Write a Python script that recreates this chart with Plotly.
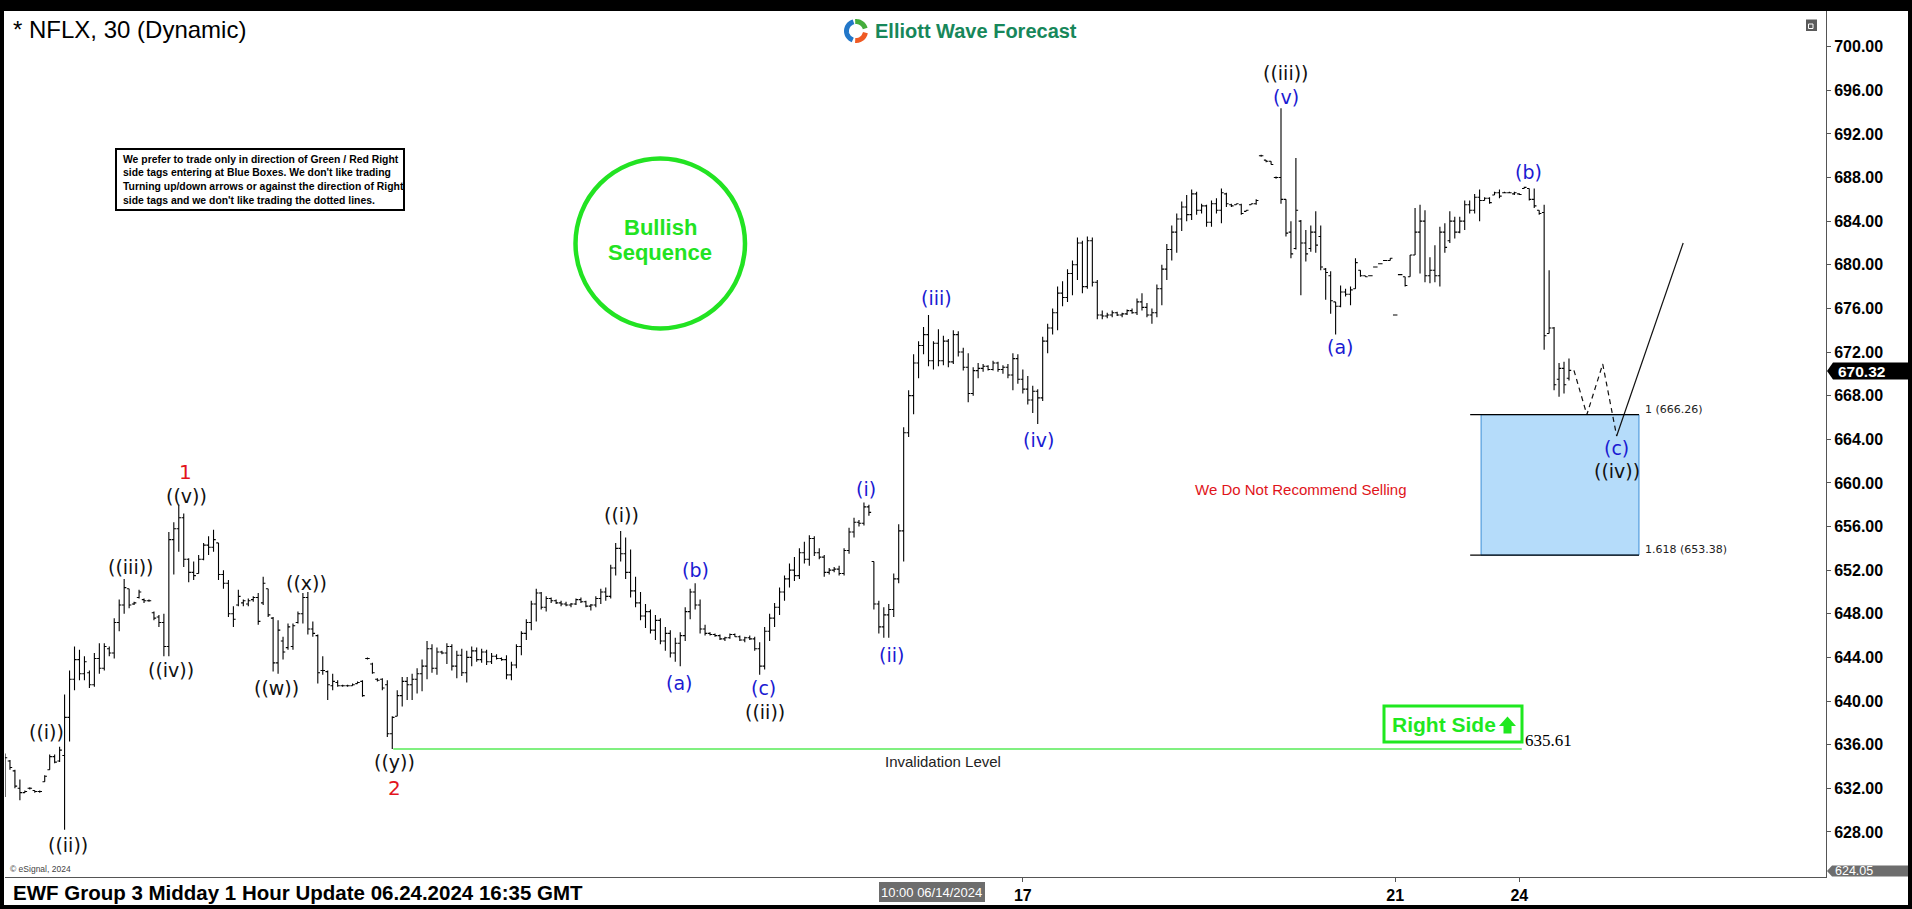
import plotly.graph_objects as go
import math

# ---------------- DATA ----------------
bar_open = [
 631.5, 634.5, 633.6, 632.0, 631.6, 632.0, 631.8, 631.7, 632.6, 633.7,
 634.9, 634.5, 635.0, 638.5, 642.0, 643.8, 642.5, 642.6, 641.5, 643.9,
 643.0, 644.8, 644.4, 647.2, 648.8, 650.3, 648.9, 649.5, 649.3, 649.2,
 648.1, 647.7, 647.2, 645.0, 654.8, 655.8, 656.8, 653.0, 651.8, 651.7,
 653.0, 654.3, 654.1, 654.5, 651.6, 650.8, 648.0, 648.8, 649.0, 648.9,
 649.3, 649.5, 649.0, 650.3, 647.6, 643.5, 645.5, 644.9, 645.0, 647.2,
 648.0, 649.5, 646.6, 646.0, 642.8, 642.7, 641.4, 641.7, 641.4, 641.4,
 641.4, 641.6, 641.8, 643.9, 643.4, 642.0, 642.0, 641.5, 637.0, 638.6,
 640.5, 641.8, 641.5, 642.0, 642.5, 643.2, 644.8, 643.0, 644.5, 644.4,
 645.0, 643.2, 644.2, 642.6, 644.0, 644.6, 643.8, 644.5, 643.6, 644.1,
 643.9, 643.8, 642.4, 643.3, 645.0, 646.2, 647.2, 648.9, 649.9, 648.6,
 649.4, 649.2, 649.0, 648.9, 648.8, 648.9, 649.3, 649.1, 648.7, 648.8,
 649.4, 650.0, 649.6, 652.2, 654.0, 653.5, 651.8, 650.1, 649.0, 647.8,
 648.2, 646.5, 647.4, 645.5, 646.2, 644.4, 645.3, 646.0, 648.2, 650.0,
 648.8, 646.6, 646.2, 646.1, 646.0, 645.7, 645.8, 646.1, 645.9, 645.6,
 645.8, 645.7, 644.8, 643.2, 646.4, 647.6, 648.6, 650.0, 651.2, 652.0,
 651.5, 653.6, 653.0, 654.9, 653.6, 653.2, 651.8, 652.0, 652.1, 651.7,
 653.8, 655.5, 656.4, 656.3, 657.8, 652.8, 648.9, 646.8, 647.9, 648.4,
 651.2, 655.6, 664.6, 668.0, 671.0, 672.6, 673.6, 671.2, 672.8, 671.2,
 673.0, 671.1, 673.6, 672.0, 670.6, 668.2, 670.3, 670.5, 670.7, 670.4,
 671.0, 670.4, 670.6, 669.9, 671.4, 669.5, 668.6, 667.6, 668.4, 667.8,
 673.0, 674.2, 675.6, 677.4, 677.0, 679.2, 680.0, 682.0, 678.0, 682.2,
 678.4, 675.4, 675.3, 675.4, 675.6, 675.4, 675.5, 675.8, 675.6, 676.6,
 676.1, 675.4, 675.6, 677.8, 679.6, 681.4, 683.0, 684.2, 685.3, 684.6,
 686.5, 685.0, 685.4, 683.9, 685.6, 685.0, 686.5, 685.5, 685.5, 685.5,
 684.9, 685.5, 685.6, 690.0, 689.6, 689.5, 688.0, 688.0, 686.0, 683.0,
 681.5, 684.0, 682.0, 681.5, 683.0, 682.6, 679.6, 679.0, 676.6, 676.2,
 677.5, 677.3, 677.8, 679.5, 679.0, 679.0, 679.8, 680.1, 680.4, 680.4,
 675.4, 679.1, 678.9, 678.9, 680.9, 683.0, 684.0, 679.0, 679.5, 679.0,
 683.0, 682.2, 684.0, 683.0, 684.0, 685.5, 685.0, 686.2, 685.9, 686.1,
 686.4, 686.6, 686.6, 686.6, 686.5, 686.5, 687.0, 687.0, 686.0, 685.0,
 684.8, 673.7, 674.2, 669.5, 670.5, 669.6]
bar_high = [
 635.2, 634.6, 633.7, 632.8, 631.8, 632.1, 631.8, 631.8, 633.2, 635.1,
 635.1, 635.8, 640.6, 642.8, 645.0, 644.7, 644.1, 642.8, 644.4, 645.3,
 645.3, 645.0, 647.6, 649.3, 651.2, 650.3, 649.1, 650.2, 649.4, 649.3,
 648.2, 647.9, 648.0, 655.5, 656.4, 658.0, 657.2, 653.1, 652.8, 653.4,
 654.5, 655.1, 655.7, 654.5, 652.0, 651.1, 648.7, 650.2, 649.3, 649.4,
 649.6, 649.9, 651.4, 650.3, 647.7, 647.4, 645.9, 647.1, 647.1, 648.2,
 649.9, 650.0, 647.3, 646.1, 644.1, 642.8, 642.5, 641.9, 641.5, 641.5,
 641.6, 641.8, 641.9, 644.0, 643.5, 642.1, 642.1, 641.9, 638.6, 641.0,
 642.2, 642.2, 642.5, 643.0, 643.8, 645.5, 645.2, 644.9, 644.6, 645.3,
 645.2, 644.6, 644.8, 644.6, 645.0, 644.9, 644.8, 644.7, 644.4, 644.3,
 644.0, 644.2, 643.6, 645.2, 646.4, 647.5, 649.2, 650.3, 650.0, 649.6,
 649.5, 649.3, 649.2, 649.1, 649.0, 649.4, 649.5, 649.2, 648.9, 649.6,
 650.3, 650.4, 652.5, 654.5, 655.6, 655.0, 653.9, 651.4, 650.0, 648.9,
 648.4, 647.9, 647.6, 646.8, 646.5, 645.8, 646.3, 648.6, 650.3, 650.8,
 649.3, 647.0, 646.3, 646.2, 646.1, 645.9, 646.2, 646.2, 646.0, 645.9,
 646.0, 645.9, 645.4, 646.8, 648.0, 649.0, 650.4, 651.5, 652.6, 653.2,
 654.0, 654.6, 655.2, 655.1, 654.0, 653.4, 652.2, 652.3, 652.4, 654.0,
 655.9, 656.8, 656.6, 658.2, 658.0, 652.8, 649.2, 648.6, 648.9, 651.7,
 656.2, 665.1, 668.5, 671.8, 673.0, 674.3, 675.4, 673.0, 674.1, 673.5,
 673.2, 674.0, 673.9, 672.4, 671.9, 670.6, 671.0, 670.9, 670.8, 671.2,
 671.1, 670.8, 670.9, 671.9, 671.8, 670.4, 669.8, 668.9, 668.6, 673.4,
 674.6, 676.0, 678.0, 678.5, 679.6, 680.4, 682.5, 682.2, 682.6, 682.5,
 678.6, 675.8, 675.6, 675.8, 675.7, 675.6, 675.9, 676.0, 676.9, 677.4,
 676.5, 676.0, 678.2, 680.0, 681.9, 683.6, 684.7, 685.8, 686.4, 686.9,
 686.7, 685.6, 685.5, 685.9, 686.1, 687.0, 686.6, 685.6, 685.6, 685.6,
 685.0, 685.6, 686.0, 690.1, 689.6, 689.5, 688.1, 694.35, 686.0, 684.0,
 689.8, 684.1, 683.2, 683.6, 684.9, 683.6, 679.7, 679.4, 676.6, 678.1,
 677.8, 678.0, 680.6, 679.5, 679.0, 679.05, 679.85, 680.15, 680.45, 680.6,
 675.45, 679.15, 678.9, 680.9, 685.2, 685.5, 685.0, 680.7, 681.8, 683.5,
 683.8, 684.9, 684.4, 684.4, 685.9, 685.9, 686.5, 686.9, 686.2, 686.2,
 686.7, 686.9, 686.7, 686.7, 686.7, 686.55, 687.15, 687.0, 687.0, 685.0,
 685.5, 679.5, 674.3, 671.0, 671.1, 671.4]
bar_low = [
 631.2, 633.7, 632.0, 630.9, 631.6, 631.9, 631.6, 631.6, 632.6, 633.7,
 634.3, 634.4, 628.2, 636.3, 641.0, 641.9, 641.9, 641.2, 641.3, 642.5,
 642.8, 644.1, 643.9, 646.4, 648.0, 648.5, 648.8, 649.4, 649.0, 649.1,
 647.4, 646.8, 644.1, 644.1, 651.6, 653.7, 652.3, 650.9, 651.1, 651.7,
 652.9, 653.4, 653.7, 651.1, 650.3, 647.7, 646.8, 648.7, 648.7, 648.7,
 649.1, 647.0, 648.8, 647.7, 642.7, 642.5, 643.8, 644.7, 644.7, 647.1,
 647.1, 646.1, 645.9, 641.6, 642.4, 640.1, 641.0, 641.3, 641.3, 641.3,
 641.4, 641.6, 640.4, 643.8, 642.5, 641.8, 641.0, 636.7, 635.61, 638.6,
 639.5, 640.1, 640.1, 640.7, 640.9, 642.0, 642.6, 642.4, 644.3, 643.4,
 642.8, 642.1, 642.3, 641.7, 643.2, 643.6, 643.5, 643.3, 643.4, 643.8,
 643.7, 642.0, 641.9, 643.0, 644.2, 645.6, 646.5, 647.3, 648.4, 648.2,
 649.0, 648.9, 648.7, 648.7, 648.6, 648.8, 649.0, 648.6, 648.3, 648.6,
 648.9, 649.2, 649.4, 651.5, 652.8, 651.2, 649.5, 648.6, 647.4, 646.7,
 646.2, 645.6, 645.2, 644.6, 644.0, 643.6, 643.2, 645.5, 647.5, 648.4,
 646.2, 646.0, 646.0, 645.9, 645.6, 645.5, 645.7, 645.9, 645.5, 645.4,
 645.6, 644.6, 642.4, 642.9, 645.5, 646.8, 647.9, 649.2, 650.4, 651.0,
 651.2, 652.6, 652.4, 653.3, 653.0, 651.4, 651.6, 651.8, 651.5, 651.5,
 653.5, 655.0, 656.0, 656.1, 657.0, 648.4, 646.2, 645.8, 645.8, 647.7,
 650.8, 652.8, 664.2, 666.3, 669.6, 671.8, 670.7, 670.4, 670.7, 670.8,
 670.6, 670.9, 671.6, 670.3, 667.4, 668.0, 669.6, 670.2, 670.3, 670.3,
 670.2, 670.0, 669.6, 668.5, 669.1, 668.2, 667.2, 666.4, 665.4, 667.5,
 671.9, 673.6, 674.0, 676.2, 676.6, 677.2, 678.6, 677.4, 677.8, 678.0,
 675.0, 675.0, 675.1, 675.2, 675.3, 675.2, 675.4, 675.5, 675.4, 675.8,
 675.2, 674.6, 675.2, 676.3, 678.6, 680.4, 681.1, 683.1, 684.0, 684.1,
 684.6, 684.7, 683.5, 683.5, 684.7, 683.8, 685.3, 685.3, 685.5, 684.6,
 684.9, 685.5, 685.5, 689.9, 689.4, 689.2, 687.9, 685.6, 682.6, 680.6,
 681.4, 677.2, 680.3, 681.2, 681.1, 679.5, 676.8, 675.5, 673.6, 676.1,
 677.1, 676.3, 677.8, 678.9, 678.9, 678.95, 679.75, 680.05, 680.35, 680.4,
 675.35, 679.05, 678.0, 678.9, 680.9, 679.2, 678.4, 678.3, 678.4, 678.0,
 681.1, 682.0, 682.4, 682.9, 683.2, 684.7, 684.7, 684.0, 685.9, 685.6,
 686.4, 686.1, 686.55, 686.55, 686.4, 686.4, 687.0, 685.9, 685.2, 684.6,
 672.2, 673.7, 668.5, 667.9, 668.2, 669.4]
bar_close = [
 634.8, 633.9, 632.2, 631.6, 631.7, 632.0, 631.7, 631.7, 633.1, 634.9,
 634.4, 635.5, 638.5, 642.0, 643.8, 642.5, 643.6, 641.5, 643.9, 643.0,
 645.0, 644.4, 647.2, 648.8, 650.4, 648.8, 649.0, 650.0, 649.2, 649.2,
 647.6, 647.2, 645.0, 654.8, 655.8, 656.8, 653.0, 651.8, 651.5, 653.0,
 654.3, 654.1, 654.8, 651.6, 650.8, 648.0, 647.5, 649.6, 649.2, 649.2,
 649.5, 647.3, 650.8, 647.9, 643.5, 646.5, 644.5, 646.8, 646.9, 648.0,
 649.5, 646.6, 646.2, 642.6, 642.8, 641.5, 641.8, 641.4, 641.4, 641.4,
 641.5, 641.7, 640.5, 643.9, 642.6, 641.9, 641.2, 637.0, 638.5, 640.5,
 641.8, 641.5, 642.0, 642.5, 643.2, 644.8, 643.0, 644.5, 644.4, 645.0,
 643.2, 644.2, 642.6, 644.0, 644.6, 643.8, 644.5, 643.6, 644.1, 643.9,
 643.8, 642.4, 643.3, 645.0, 646.2, 647.2, 648.9, 649.9, 648.6, 649.4,
 649.2, 649.0, 648.9, 648.8, 648.9, 649.3, 649.1, 648.7, 648.8, 649.4,
 650.0, 649.6, 652.2, 654.0, 653.5, 651.8, 650.1, 649.0, 647.8, 648.2,
 646.5, 647.4, 645.5, 646.2, 644.4, 645.3, 646.0, 648.2, 650.0, 648.8,
 646.6, 646.2, 646.1, 646.0, 645.7, 645.8, 646.1, 645.9, 645.6, 645.8,
 645.7, 644.8, 643.2, 646.4, 647.6, 648.6, 650.0, 651.2, 652.0, 651.5,
 653.6, 653.0, 654.9, 653.6, 653.2, 651.8, 652.0, 652.1, 651.7, 653.8,
 655.5, 656.4, 656.3, 657.8, 657.3, 648.9, 646.8, 647.9, 648.4, 651.2,
 655.6, 664.6, 668.0, 671.0, 672.6, 673.6, 671.2, 672.8, 671.2, 673.0,
 671.1, 673.6, 672.0, 670.6, 668.2, 670.3, 670.5, 670.7, 670.4, 671.0,
 670.4, 670.6, 669.9, 671.4, 669.5, 668.6, 667.6, 668.4, 667.8, 673.0,
 674.2, 675.6, 677.4, 677.0, 679.2, 680.0, 682.0, 678.0, 682.2, 678.4,
 675.4, 675.3, 675.4, 675.6, 675.4, 675.5, 675.8, 675.6, 676.6, 676.1,
 675.4, 675.6, 677.8, 679.6, 681.4, 683.0, 684.2, 685.3, 684.6, 686.5,
 685.0, 685.4, 683.9, 685.6, 685.0, 686.6, 685.6, 685.4, 685.6, 684.7,
 685.0, 685.6, 685.9, 690.0, 689.5, 689.2, 688.0, 686.0, 682.9, 681.0,
 685.0, 682.0, 681.0, 683.0, 681.8, 679.8, 679.3, 676.7, 676.2, 677.5,
 677.3, 677.7, 680.2, 679.0, 678.9, 679.0, 679.8, 680.1, 680.4, 680.6,
 675.4, 679.1, 678.1, 680.9, 683.0, 684.0, 679.0, 679.5, 679.0, 683.0,
 681.6, 684.0, 683.0, 684.0, 685.5, 685.0, 686.2, 685.9, 686.1, 685.7,
 686.6, 686.3, 686.6, 686.6, 686.6, 686.45, 687.1, 686.0, 685.4, 684.7,
 673.5, 674.2, 669.0, 670.5, 669.0, 670.32]

assert len(bar_open) == len(bar_high) == len(bar_low) == len(bar_close), (
    len(bar_open), len(bar_high), len(bar_low), len(bar_close))

day_tick_index = [205, 280, 305]
day_tick_text = ["17", "21", "24"]
price_ticks = [628, 632, 636, 640, 644, 648, 652, 656, 660, 664, 668, 672,
               676, 680, 684, 688, 692, 696, 700]

wave_text = ["((i))", "((ii))", "((iii))", "((iv))", "((v))", "((w))", "((x))",
             "((y))", "((i))", "((ii))", "((iii))", "((iv))"]
wave_x = [8.4, 12.6, 25.3, 33.4, 36.6, 54.7, 60.8, 78.4, 124.2, 153.0, 258.0, 324.6]
wave_y = [637.2, 626.8, 652.3, 642.85, 658.8, 641.17, 650.8, 634.44, 657.1, 639.0,
          697.55, 661.12]

minor_text = ["(a)", "(b)", "(c)", "(i)", "(ii)", "(iii)", "(iv)", "(v)", "(a)",
              "(b)", "(c)"]
minor_x = [135.8, 139.0, 152.7, 173.4, 178.5, 187.6, 208.2, 258.0, 268.9, 306.8, 324.5]
minor_y = [641.66, 652.06, 641.22, 659.44, 644.24, 677.0, 663.92, 695.4, 672.49,
           688.54, 663.17]

major_text = ["1", "2"]
major_x = [36.3, 78.4]
major_y = [661.0, 632.0]

proj_dash_x = [316.0, 318.6, 321.8, 324.6]
proj_dash_y = [670.32, 666.26, 670.9, 664.3]
proj_solid_x = [324.6, 338.0]
proj_solid_y = [664.3, 682.0]

fib_levels = [666.26, 653.38]
fib_labels = ["1 (666.26)", "1.618 (653.38)"]
box_x = [297.3, 329.1]
fib_line_x0 = 295.1

invalidation_price = 635.61
invalidation_x = [78.2, 305.5]
last_price = 670.32
axis_low_price = 624.05

# ---------------- LAYOUT GEOMETRY ----------------
W, H = 1912, 909
L, T = 5, 11
R_EDGE, B_EDGE = 1826, 877
PW, PH = R_EDGE - L, B_EDGE - T
X0_PX, DX_PX = 5.0, 4.965
y_top = 704.28 - T / 10.906
y_bot = 704.28 - B_EDGE / 10.906
x_rng = [(L - X0_PX) / DX_PX, (R_EDGE - X0_PX) / DX_PX]


def px(x):
    return (x - L) / PW


def py(y):
    return 1 - (y - T) / PH


def poly_path(pts):
    return "M " + " L ".join(f"{px(a):.6f},{py(b):.6f}" for a, b in pts) + " Z"


def open_path(pts):
    return "M " + " L ".join(f"{px(a):.6f},{py(b):.6f}" for a, b in pts)


def ptext(x, y, text, size, color, family="Liberation Sans", xa="center", ya="middle"):
    return dict(x=px(x), y=py(y), xref="paper", yref="paper", text=text,
                showarrow=False, xanchor=xa, yanchor=ya,
                font=dict(family=family, size=size, color=color))


fig = go.Figure()
n = len(bar_open)
fig.add_trace(go.Ohlc(
    x=list(range(n)), open=bar_open, high=bar_high, low=bar_low, close=bar_close,
    increasing=dict(line=dict(color="black", width=1.1)),
    decreasing=dict(line=dict(color="black", width=1.1)),
    tickwidth=0.45, hoverinfo="skip", showlegend=False))

fig.add_trace(go.Scatter(x=proj_dash_x, y=proj_dash_y, mode="lines",
                         line=dict(color="#111", width=1.2, dash="5px,4px"),
                         hoverinfo="skip", showlegend=False))
fig.add_trace(go.Scatter(x=proj_solid_x, y=proj_solid_y, mode="lines",
                         line=dict(color="#111", width=1.2),
                         hoverinfo="skip", showlegend=False))

shapes = []
ann = []

# blue box + fib lines
shapes.append(dict(type="rect", xref="x", yref="y", x0=box_x[0], x1=box_x[1],
                   y0=fib_levels[1], y1=fib_levels[0], fillcolor="#b5dcfa",
                   line=dict(color="#3b8ed6", width=1), layer="below"))
for lv in fib_levels:
    shapes.append(dict(type="line", xref="x", yref="y", x0=fib_line_x0, x1=box_x[1],
                       y0=lv, y1=lv, line=dict(color="black", width=1.3)))
for lv, lab in zip(fib_levels, fib_labels):
    ann.append(dict(x=box_x[1] + 0.8, y=lv + 0.5, xref="x", yref="y", text=lab,
                    showarrow=False, xanchor="left", yanchor="middle",
                    font=dict(family="DejaVu Sans", size=11, color="#222")))

# invalidation line
shapes.append(dict(type="line", xref="x", yref="y", x0=invalidation_x[0],
                   x1=invalidation_x[1], y0=invalidation_price, y1=invalidation_price,
                   line=dict(color="#80f080", width=2)))

# wave labels
for t, x, y in zip(wave_text, wave_x, wave_y):
    ann.append(dict(x=x, y=y, xref="x", yref="y", text=t, showarrow=False,
                    xanchor="center", yanchor="middle",
                    font=dict(family="DejaVu Sans", size=19, color="#111")))
for t, x, y in zip(minor_text, minor_x, minor_y):
    ann.append(dict(x=x, y=y, xref="x", yref="y", text=t, showarrow=False,
                    xanchor="center", yanchor="middle",
                    font=dict(family="DejaVu Sans", size=19, color="#1a1ad2")))
for t, x, y in zip(major_text, major_x, major_y):
    ann.append(dict(x=x, y=y, xref="x", yref="y", text=t, showarrow=False,
                    xanchor="center", yanchor="middle",
                    font=dict(family="DejaVu Sans", size=20, color="#e3141c")))

# frame (black border)
for (a, b, c, d) in [(0, 0, W, T), (0, 0, 4, H), (1908, 0, W, H), (0, 905, W, H)]:
    shapes.append(dict(type="rect", xref="paper", yref="paper", x0=px(a), x1=px(c),
                       y0=py(d), y1=py(b), fillcolor="black", line=dict(width=0)))

# disclaimer box
shapes.append(dict(type="rect", xref="paper", yref="paper", x0=px(116), x1=px(404),
                   y0=py(210), y1=py(149), fillcolor="white",
                   line=dict(color="black", width=2)))
disc_lines = ["We prefer to trade only in direction of Green / Red Right",
              "side tags entering at Blue Boxes. We don't like trading",
              "Turning up/down arrows or against the direction of Right",
              "side tags and we don't like trading the dotted lines."]
for k, line in enumerate(disc_lines):
    ann.append(ptext(121, 159 + 13.8 * k, "<b>" + line + "</b>", 10.4, "black", xa="left"))

# bullish sequence circle
GREEN = "#22e322"
shapes.append(dict(type="circle", xref="paper", yref="paper", x0=px(575.5), x1=px(745),
                   y0=py(328.5), y1=py(158.5), line=dict(color=GREEN, width=4.5)))
ann.append(ptext(660, 227, "<b>Bullish</b>", 22, GREEN))
ann.append(ptext(660, 253, "<b>Sequence</b>", 22, GREEN))

# right side tag
RS_GREEN = "#1fe81f"
shapes.append(dict(type="rect", xref="paper", yref="paper", x0=px(1384), x1=px(1522),
                   y0=py(742), y1=py(706), line=dict(color=RS_GREEN, width=3),
                   fillcolor="white"))
ann.append(ptext(1390, 724, "<b>Right Side</b>", 21, RS_GREEN, xa="left"))
shapes.append(dict(type="path", xref="paper", yref="paper",
                   path=poly_path([(1499, 726), (1507.5, 716.5), (1516, 726), (1511.5, 726),
                                   (1511.5, 733.5), (1503.5, 733.5), (1503.5, 726)]),
                   fillcolor=RS_GREEN, line=dict(width=0)))
ann.append(ptext(1523, 740, f"{invalidation_price:.2f}", 17, "black",
                 family="Liberation Serif", xa="left"))
ann.append(ptext(943, 761, "Invalidation Level", 15, "#222"))
ann.append(ptext(1300, 489, "We Do Not Recommend Selling", 15, "#e0141a"))

# title / logo
ann.append(ptext(11, 29, "* NFLX, 30 (Dynamic)", 24, "black", xa="left"))
ann.append(ptext(873, 30.5, "<b>Elliott Wave Forecast</b>", 20, "#17875a", xa="left"))


def arc(cx, cy, r, a0, a1, nn=18):
    pts = []
    for k in range(nn + 1):
        a = math.radians(a0 + (a1 - a0) * k / nn)
        pts.append((cx + r * math.cos(a), cy - r * math.sin(a)))
    return pts


for (a0, a1, col) in [(105, 250, "#2277c8"), (15, 95, "#45ad3c"), (265, 350, "#ef5a24")]:
    shapes.append(dict(type="path", xref="paper", yref="paper",
                       path=open_path(arc(856, 31, 9.5, a0, a1)),
                       line=dict(color=col, width=5)))

# top-right icon
shapes.append(dict(type="rect", xref="paper", yref="paper", x0=px(1806), x1=px(1817),
                   y0=py(31), y1=py(19.5), fillcolor="#5a5a5a", line=dict(width=0)))
shapes.append(dict(type="rect", xref="paper", yref="paper", x0=px(1808.5), x1=px(1813),
                   y0=py(28.5), y1=py(24), fillcolor="rgba(0,0,0,0)",
                   line=dict(color="white", width=1)))

# price tags
shapes.append(dict(type="path", xref="paper", yref="paper",
                   path=poly_path([(1827, 371), (1833, 362.5), (1908, 362.5), (1908, 379.5),
                                   (1833, 379.5)]),
                   fillcolor="black", line=dict(width=0)))
ann.append(ptext(1836, 371, f"<b>{last_price:.2f}</b>", 15.5, "white", xa="left"))
shapes.append(dict(type="path", xref="paper", yref="paper",
                   path=poly_path([(1827, 871), (1832, 865.5), (1908, 865.5), (1908, 876.5),
                                   (1832, 876.5)]),
                   fillcolor="#6d6d6d", line=dict(width=0)))
ann.append(ptext(1833, 871, f"{axis_low_price:.2f}", 12.5, "white", xa="left"))

# bottom strip
ann.append(ptext(11, 892, "<b>EWF Group 3 Midday 1 Hour Update 06.24.2024 16:35 GMT</b>",
                 20.5, "black", xa="left"))
ann.append(ptext(8, 869, "© eSignal, 2024", 8.5, "#444", xa="left"))
shapes.append(dict(type="rect", xref="paper", yref="paper", x0=px(879), x1=px(985),
                   y0=py(902), y1=py(882), fillcolor="#6d6d6d", line=dict(width=0)))
ann.append(ptext(932, 892, "10:00 06/14/2024", 13, "white"))

fig.update_layout(
    width=W, height=H, margin=dict(l=L, r=W - R_EDGE, t=T, b=H - B_EDGE),
    paper_bgcolor="white", plot_bgcolor="white", showlegend=False,
    shapes=shapes, annotations=ann,
    xaxis=dict(range=x_rng, showgrid=False, zeroline=False, showline=True,
               linecolor="#555", linewidth=1, ticks="outside", ticklen=4,
               tickcolor="#555", tickvals=day_tick_index, ticktext=day_tick_text,
               tickfont=dict(family="Liberation Sans", size=16, color="black",
                             weight="bold"),
               rangeslider=dict(visible=False), fixedrange=True),
    yaxis=dict(range=[y_bot, y_top], side="right", showgrid=False, zeroline=False,
               showline=True, linecolor="#555", linewidth=1, ticks="outside",
               ticklen=4, tickcolor="#555", tickvals=price_ticks,
               ticktext=[f"{v:.2f}" for v in price_ticks],
               tickfont=dict(family="Liberation Sans", size=16, color="black",
                             weight="bold"), fixedrange=True),
)

fig.write_html("out.html", config={"displayModeBar": False, "staticPlot": True},
               post_script="document.body.style.margin='0';document.body.style.overflow='hidden';")
